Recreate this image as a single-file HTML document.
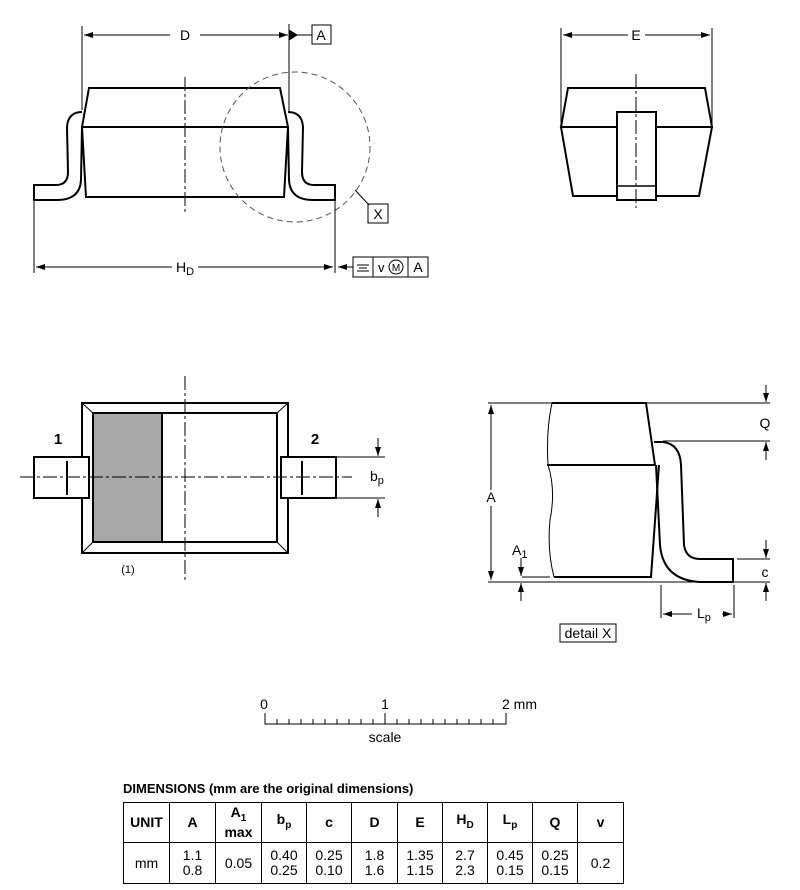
<!DOCTYPE html>
<html><head><meta charset="utf-8"><style>
html,body{margin:0;padding:0;background:#fff;}
svg{display:block;font-family:"Liberation Sans",Arial,sans-serif;}
table{position:absolute;left:123px;top:802px;border-collapse:collapse;font-family:"Liberation Sans",Arial,sans-serif;font-size:14px;}
td{border:1.5px solid #000;text-align:center;padding:0;line-height:15px;}
</style></head><body>
<div style="position:relative;width:800px;height:890px;overflow:hidden">
<svg width="800" height="890" viewBox="0 0 800 890">
<defs>
<marker id="ar" markerWidth="10" markerHeight="8" refX="9" refY="4" orient="auto" markerUnits="userSpaceOnUse"><path d="M0,1 L9,4 L0,7 Z" fill="#000"/></marker>
</defs>
<g fill="none" stroke="#000" stroke-width="1">
<line x1="82" y1="26" x2="82" y2="110"/>
<line x1="289" y1="24" x2="289" y2="112"/>
<line x1="170" y1="35" x2="84" y2="35" marker-end="url(#ar)"/>
<line x1="200" y1="35" x2="288" y2="35" marker-end="url(#ar)"/>
<line x1="289" y1="35" x2="312" y2="35"/>
<path d="M289,30 L297,35 L289,40Z" fill="#000"/>
<rect x="312" y="25" width="19" height="19"/>
<g stroke-width="2">
<path d="M89,88 L280,88 L288,127 L82,127 Z"/>
<path d="M82,127 L86,197 L284,197 L288,127"/>
<path d="M82,112 Q68,112 67,127 L68,172 Q68,185 56,185 L34,185 L34,200 L57,200 Q80,200 81,180 L82,127"/>
<path d="M288,112 Q302,112 303,127 L302,172 Q302,185 314,185 L335,185 L335,200 L313,200 Q290,200 289,180 L288,127"/>
</g>
<line x1="185" y1="77" x2="185" y2="212" stroke-dasharray="14,3,3,3"/>
<circle cx="295" cy="147" r="75" stroke="#555" stroke-dasharray="6,4"/>
<polyline points="355,190 369,205"/>
<rect x="368" y="204" width="20" height="19"/>
<line x1="34" y1="200" x2="34" y2="273"/>
<line x1="335" y1="200" x2="335" y2="273"/>
<line x1="172" y1="267" x2="36" y2="267" marker-end="url(#ar)"/>
<line x1="198" y1="267" x2="333" y2="267" marker-end="url(#ar)"/>
<line x1="353" y1="267" x2="338" y2="267" marker-end="url(#ar)"/>
<rect x="353" y="257" width="75" height="20"/>
<line x1="373" y1="257" x2="373" y2="277"/>
<line x1="408" y1="257" x2="408" y2="277"/>
<line x1="357" y1="265" x2="369" y2="265"/><line x1="359" y1="268" x2="367" y2="268"/><line x1="357" y1="271" x2="369" y2="271"/>
<circle cx="396" cy="267" r="7"/>
<line x1="561" y1="28" x2="561" y2="125"/>
<line x1="712" y1="28" x2="712" y2="125"/>
<line x1="628" y1="35" x2="563" y2="35" marker-end="url(#ar)"/>
<line x1="645" y1="35" x2="710" y2="35" marker-end="url(#ar)"/>
<g stroke-width="2">
<path d="M568,88 L705,88 L712,127 L561,127 Z"/>
<path d="M561,127 L573,196 L699,196 L712,127"/>
<rect x="617" y="112" width="39" height="88" fill="#fff"/>
<line x1="617" y1="186" x2="656" y2="186" stroke-width="1.5"/>
</g>
<line x1="636" y1="74" x2="636" y2="208" stroke-dasharray="14,3,3,3"/>
<rect x="94" y="413" width="68" height="129" fill="#a8a8a8" stroke="none"/>
<g stroke-width="2">
<rect x="82" y="403" width="206" height="150"/>
<rect x="93" y="413" width="184" height="129"/>
<line x1="162" y1="413" x2="162" y2="542"/>
<rect x="34" y="457" width="55" height="41" fill="#fff"/>
<rect x="281" y="457" width="55" height="41" fill="#fff"/>
<line x1="67" y1="461" x2="67" y2="495"/>
<line x1="302" y1="461" x2="302" y2="495"/>
</g>
<line x1="82" y1="403" x2="93" y2="413"/><line x1="288" y1="403" x2="277" y2="413"/>
<line x1="82" y1="553" x2="93" y2="542"/><line x1="288" y1="553" x2="277" y2="542"/>
<line x1="185" y1="376" x2="185" y2="582" stroke-dasharray="14,3,3,3"/>
<line x1="20" y1="477" x2="352" y2="477" stroke-dasharray="14,3,3,3"/>
<line x1="336" y1="457" x2="385" y2="457"/>
<line x1="336" y1="498" x2="385" y2="498"/>
<line x1="378" y1="438" x2="378" y2="456" marker-end="url(#ar)"/>
<line x1="378" y1="517" x2="378" y2="499" marker-end="url(#ar)"/>
<line x1="488" y1="403" x2="770" y2="403"/>
<line x1="488" y1="582" x2="770" y2="582"/>
<line x1="491" y1="490" x2="491" y2="405" marker-end="url(#ar)"/>
<line x1="491" y1="506" x2="491" y2="580" marker-end="url(#ar)"/>
<line x1="522" y1="577" x2="550" y2="577"/>
<line x1="521" y1="558" x2="521" y2="576" marker-end="url(#ar)"/>
<line x1="521" y1="601" x2="521" y2="583" marker-end="url(#ar)"/>
<g stroke-width="2">
<path d="M552,403 L646,403 L655,465 L547,465"/>
<path d="M659,465 L651,577 L554,577"/>
<path d="M654,442 L663,442 Q680,444 681,465 L684,545 Q686,559 700,559 L733,559 L733,582 L700,582 Q663,580 660,545 L656,465"/>
</g>
<path d="M552,403 Q546,430 548,465 Q556,490 550,520 Q547,550 554,577" stroke-width="1"/>
<line x1="663" y1="441" x2="770" y2="441"/>
<line x1="766" y1="385" x2="766" y2="402" marker-end="url(#ar)"/>
<line x1="766" y1="460" x2="766" y2="442" marker-end="url(#ar)"/>
<line x1="737" y1="559" x2="770" y2="559"/>
<line x1="766" y1="540" x2="766" y2="558" marker-end="url(#ar)"/>
<line x1="766" y1="601" x2="766" y2="583" marker-end="url(#ar)"/>
<line x1="661" y1="585" x2="661" y2="618"/>
<line x1="734" y1="585" x2="734" y2="618"/>
<line x1="692" y1="614" x2="663" y2="614" marker-end="url(#ar)"/>
<line x1="722" y1="614" x2="732" y2="614" marker-end="url(#ar)"/>
<rect x="560" y="624" width="56" height="18"/>
<path d="M265,713 L265,724 L506,724 L506,713"/>
<line x1="385" y1="713" x2="385" y2="724"/>
<path d="M277,719V724M289,719V724M301,719V724M313,719V724M325,719V724M337,719V724M349,719V724M361,719V724M373,719V724M397,719V724M409,719V724M421,719V724M433,719V724M445,719V724M457,719V724M469,719V724M481,719V724M493,719V724"/>
</g>
<g font-size="14" fill="#000">
<text x="185" y="40" text-anchor="middle">D</text>
<text x="321" y="40" text-anchor="middle">A</text>
<text x="378" y="219" text-anchor="middle">X</text>
<text x="176" y="272">H<tspan font-size="11" dy="3">D</tspan></text>
<text x="378" y="272" font-size="13">v</text>
<text x="396" y="271" font-size="10" text-anchor="middle">M</text>
<text x="418" y="272" text-anchor="middle">A</text>
<text x="636" y="40" text-anchor="middle">E</text>
<text x="58" y="444" font-weight="bold" font-size="15" text-anchor="middle">1</text>
<text x="315" y="444" font-weight="bold" font-size="15" text-anchor="middle">2</text>
<text x="370" y="481">b<tspan font-size="11" dy="3">p</tspan></text>
<text x="128" y="573" font-size="11" text-anchor="middle">(1)</text>
<text x="491" y="502" text-anchor="middle">A</text>
<text x="512" y="555">A<tspan font-size="11" dy="3">1</tspan></text>
<text x="765" y="428" text-anchor="middle">Q</text>
<text x="765" y="577" text-anchor="middle">c</text>
<text x="697" y="618">L<tspan font-size="11" dy="3">p</tspan></text>
<text x="588" y="638" text-anchor="middle">detail X</text>
<text x="264" y="709" text-anchor="middle">0</text>
<text x="385" y="709" text-anchor="middle">1</text>
<text x="502" y="709">2 mm</text>
<text x="385" y="742" text-anchor="middle">scale</text>
<text x="123" y="793" font-weight="bold" font-size="13">DIMENSIONS (mm are the original dimensions)</text>
</g>
</svg>
<table>
<tr style="height:40px;font-weight:bold">
<td style="width:45px">UNIT</td><td style="width:45px">A</td><td style="width:45px">A<sub style="font-size:10px">1</sub><br>max</td><td style="width:44px">b<sub style="font-size:10px">p</sub></td><td style="width:44px">c</td><td style="width:45px">D</td><td style="width:44px">E</td><td style="width:44px">H<sub style="font-size:10px">D</sub></td><td style="width:44px">L<sub style="font-size:10px">p</sub></td><td style="width:44px">Q</td><td style="width:45px">v</td>
</tr>
<tr style="height:41px">
<td>mm</td><td>1.1<br>0.8</td><td>0.05</td><td>0.40<br>0.25</td><td>0.25<br>0.10</td><td>1.8<br>1.6</td><td>1.35<br>1.15</td><td>2.7<br>2.3</td><td>0.45<br>0.15</td><td>0.25<br>0.15</td><td>0.2</td>
</tr>
</table>
</div>
</body></html>
